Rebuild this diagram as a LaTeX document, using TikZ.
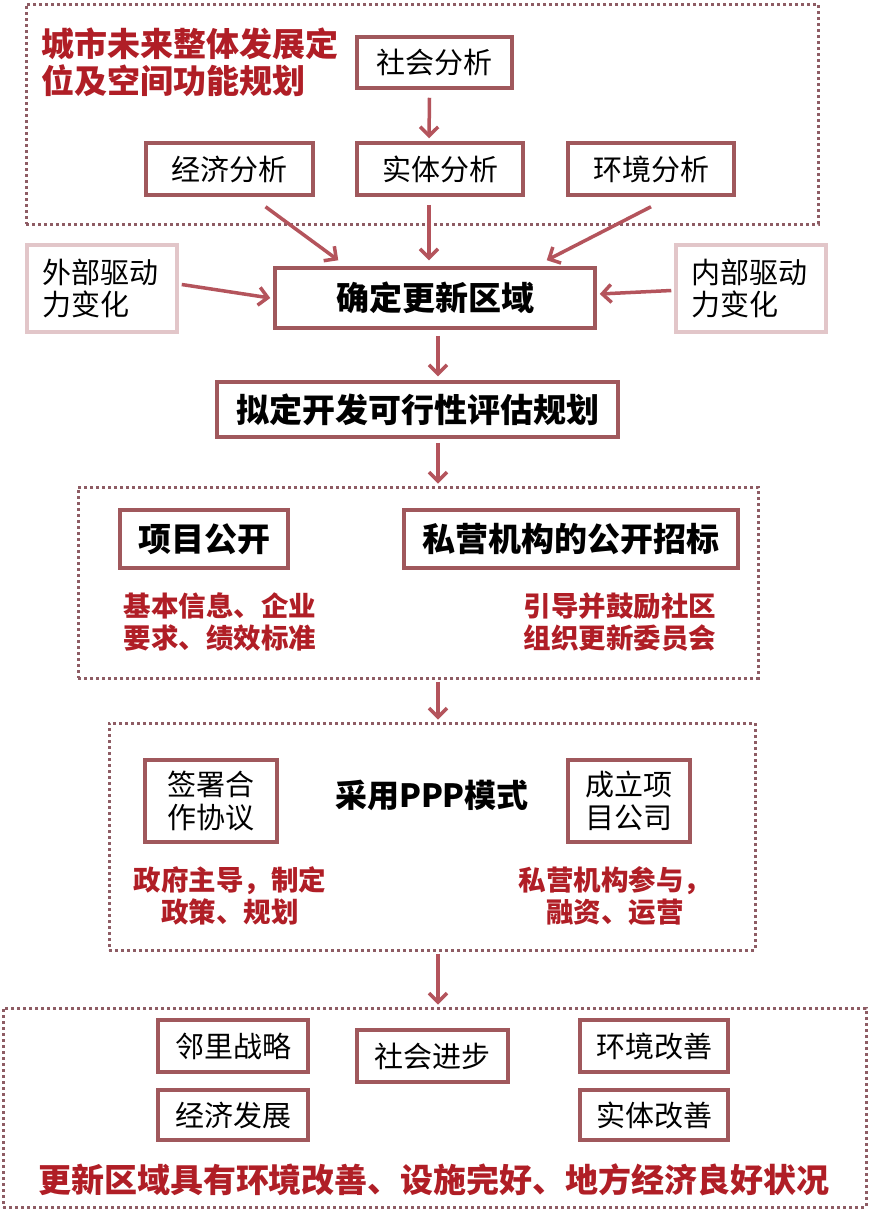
\documentclass[tikz,border=0pt]{standalone}
\usepackage{fontspec}
\setmainfont{Noto Sans CJK SC}
\usetikzlibrary{arrows.meta,calc}
\definecolor{boxc}{HTML}{A0585C}
\definecolor{lightc}{HTML}{E2C6C9}
\definecolor{arrc}{HTML}{B4545C}
\definecolor{redt}{HTML}{B01E26}
\definecolor{dotc}{HTML}{8E5C64}
\tikzset{
  box/.style={draw=boxc, line width=3.5, fill=white, inner sep=0pt, align=center,
    font=\fontsize{29}{33}\selectfont},
  lbox/.style={draw=lightc, line width=3.5, fill=white, inner sep=0pt, align=left,
    font=\fontsize{29}{32}\selectfont, text width=120},
  bbox/.style={box, font=\fontsize{33}{37}\selectfont\bfseries},
  grp/.style={draw=dotc, line width=3, dash pattern=on 3 off 3, inner sep=0pt},
  redtxt/.style={text=redt, align=center, font=\fontsize{27.5}{32}\selectfont\bfseries, inner sep=0pt},
  arr/.style={draw=arrc, line width=3.5, -{Straight Barb[length=9,width=18,line width=3.5]}},
}
\begin{document}
\begin{tikzpicture}[x=1pt,y=-1pt]
\useasboundingbox[fill=white] (0,0) rectangle (869,1211);
% group frames
\node[grp, minimum width=792, minimum height=220] (g1) at (422,114) {};
\node[grp, minimum width=680, minimum height=191] (g2) at (418,582.5) {};
\node[grp, minimum width=646, minimum height=227] (g3) at (432,836.5) {};
\node[grp, minimum width=863, minimum height=199] (g4) at (434.5,1107.5) {};
% title
\node[text=redt, anchor=north west, align=left, inner sep=0pt,
  font=\fontsize{33}{37}\selectfont\bfseries] (title) at (41,28) {城市未来整体发展定\\位及空间功能规划};
% first group
\node[box, minimum width=155, minimum height=51] (soc) at (434.5,62.5) {社会分析};
\node[box, minimum width=167, minimum height=52] (eco) at (229.5,169) {经济分析};
\node[box, minimum width=166, minimum height=52] (phy) at (440,169) {实体分析};
\node[box, minimum width=166, minimum height=52] (env) at (651,169) {环境分析};
% drivers
\node[lbox, minimum width=150, minimum height=87] (ext) at (102,288.5) {外部驱动\\力变化};
\node[lbox, minimum width=150, minimum height=87] (int) at (751,288.5) {内部驱动\\力变化};
\node[bbox, minimum width=320, minimum height=60] (det) at (435,298) {确定更新区域};
\node[bbox, minimum width=401, minimum height=55] (plan) at (417.5,409.5) {拟定开发可行性评估规划};
% second group
\node[bbox, minimum width=168, minimum height=58] (pub) at (204,539) {项目公开};
\node[bbox, minimum width=334, minimum height=58] (bid) at (571,539) {私营机构的公开招标};
\node[redtxt] (pubt) at (220,622) {基本信息、企业\\要求、绩效标准};
\node[redtxt] (bidt) at (620,622) {引导并鼓励社区\\组织更新委员会};
% third group
\node[box, align=left, minimum width=132, minimum height=82] (sign) at (211,801) {签署合\\作协议};
\node[box, align=left, minimum width=122, minimum height=82] (comp) at (629,801) {成立项\\目公司};
\node[inner sep=0pt, font=\fontsize{32}{36}\selectfont\bfseries] (ppp) at (432,795) {采用PPP模式};
\node[redtxt] (govt) at (230,896) {政府主导，制定\\政策、规划};
\node[redtxt] (privt) at (615,896) {私营机构参与，\\融资、运营};
% fourth group
\node[box, minimum width=150, minimum height=52] (nb) at (233,1046) {邻里战略};
\node[box, minimum width=150, minimum height=50] (ed) at (233,1115) {经济发展};
\node[box, minimum width=151, minimum height=52] (sp) at (432.5,1056) {社会进步};
\node[box, minimum width=148, minimum height=52] (ei) at (654,1046) {环境改善};
\node[box, minimum width=148, minimum height=50] (pi) at (654,1115) {实体改善};
\node[text=redt, inner sep=0pt, font=\fontsize{33}{38}\selectfont\bfseries] (fin) at (434,1180) {更新区域具有环境改善、设施完好、地方经济良好状况};
% arrows
\coordinate (ax) at (438,0);
\draw[arr] ($(soc.south)+(-5,8)$) -- ($(phy.north)+(-11,-3)$);
\draw[arr] ($(phy.south)+(-11,8)$) -- ($(det.north)+(-6,-6)$);
\draw[arr] ($(eco.south)+(36,10)$) -- ($(det.north west)+(65,-6)$);
\draw[arr] ($(env.south)+(0,10)$) -- ($(det.north east)+(-50,-6)$);
\draw[arr] ($(ext.east)+(3,-4)$) -- ($(det.west)+(-3,0)$);
\draw[arr] ($(int.west)+(-3,2)$) -- ($(det.east)+(3,-4)$);
\draw[arr] ($(det.south -| ax)+(0,6)$) -- ($(plan.north -| ax)+(0,-4)$);
\draw[arr] ($(plan.south -| ax)+(0,4)$) -- ($(g2.north -| ax)+(0,-2)$);
\draw[arr] ($(g2.south -| ax)+(0,2)$) -- ($(g3.north -| ax)+(0,-2)$);
\draw[arr] ($(g3.south -| ax)+(0,2)$) -- ($(g4.north -| ax)+(0,-2)$);
\end{tikzpicture}
\end{document}
